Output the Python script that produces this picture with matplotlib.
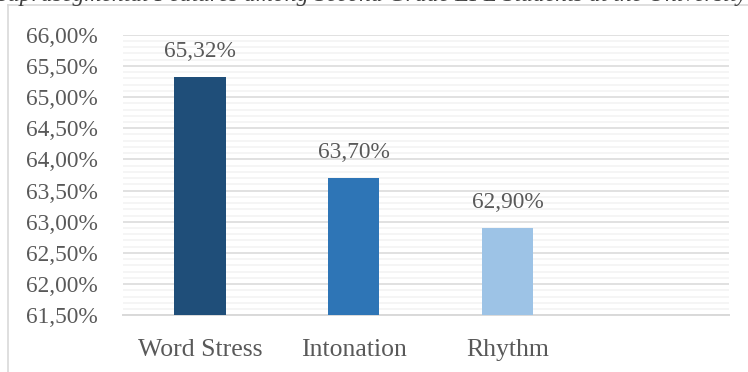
import matplotlib
matplotlib.use('Agg')
import matplotlib.pyplot as plt
from matplotlib.ticker import MultipleLocator, FuncFormatter
from matplotlib.lines import Line2D

# chart data
categories = ['Word Stress', 'Intonation', 'Rhythm']
scores = [65.32, 63.70, 62.90]
bar_colors = ['#1F4E79', '#2E75B6', '#9DC3E6']

plt.rcParams['font.family'] = ['Liberation Serif', 'DejaVu Serif']
text_gray = '#595959'

fig = plt.figure(figsize=(7.48, 3.72), dpi=100)
ax = fig.add_axes([0.1644, 0.1524, 0.8102, 0.7543])

x = list(range(len(categories)))
bars = ax.bar(x, scores, width=0.335, color=bar_colors, zorder=3)

ax.set_ylim(61.5, 66.0)
ax.set_xlim(-0.5, 3.44)
ax.yaxis.set_major_locator(MultipleLocator(0.5))
ax.yaxis.set_minor_locator(MultipleLocator(0.1))
ax.yaxis.set_major_formatter(FuncFormatter(lambda v, p: f'{v:.2f}'.replace('.', ',') + '%'))

ax.grid(which='major', axis='y', color='#D9D9D9', linewidth=1.1, zorder=0)
ax.grid(which='minor', axis='y', color='#F2F2F2', linewidth=1.1, zorder=0)

ax.set_xticks(x)
ax.set_xticklabels(categories)
ax.tick_params(axis='both', which='both', length=0, colors=text_gray)
ax.tick_params(axis='y', pad=18, labelsize=16.8)
ax.tick_params(axis='x', pad=17, labelsize=18.5)

for s in ['top', 'right', 'left']:
    ax.spines[s].set_visible(False)
ax.spines['bottom'].set_color('#D9D9D9')
ax.spines['bottom'].set_linewidth(1.4)

# value labels
for b, v in zip(bars, scores):
    ax.annotate(f'{v:.2f}'.replace('.', ',') + '%', (b.get_x() + b.get_width() / 2, v),
                xytext=(0, 11), textcoords='offset points', ha='center', va='bottom',
                color=text_gray, fontsize=16.8)

# chart frame (only top and left edges visible in the crop)
fig.add_artist(Line2D([8 / 748, 8 / 748], [0, 1 - 5 / 372], transform=fig.transFigure,
                      color='#D9D9D9', linewidth=1.2))
fig.add_artist(Line2D([8 / 748, 1], [1 - 5 / 372, 1 - 5 / 372], transform=fig.transFigure,
                      color='#D9D9D9', linewidth=1.2))

# caption above the chart, mostly cut off in the source
fig.text(-0.005, 1 - 1.5 / 372, 'Suprasegmental Features among Second Grade EFL Students at the University',
         ha='left', va='baseline', style='italic', fontsize=17, color='#404040')

fig.savefig('out.png', dpi=100)
